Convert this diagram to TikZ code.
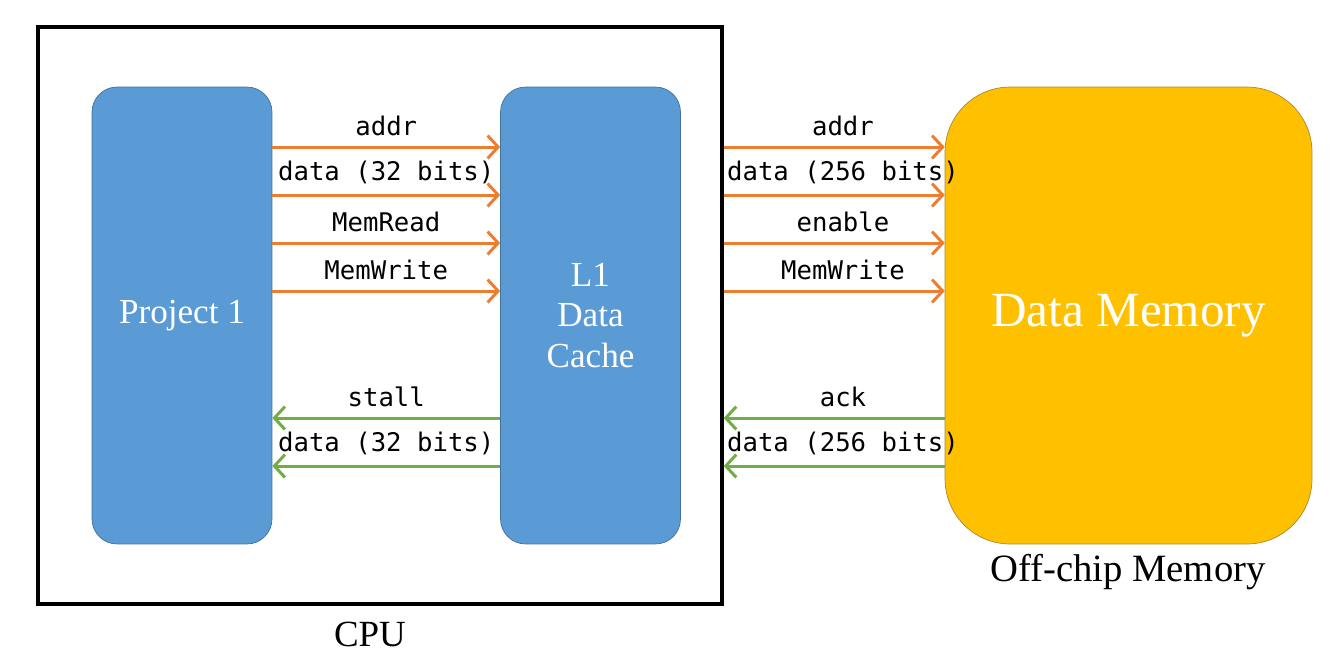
\documentclass[tikz,border=0pt]{standalone}
\usepackage{fontspec}
\setmainfont{Liberation Serif}
\setmonofont{DejaVu Sans Mono}
\usepackage{xcolor}
\usepackage{tikz}
\usetikzlibrary{positioning,calc,arrows.meta}

\definecolor{unitblue}{HTML}{5B9BD5}
\definecolor{unitedge}{HTML}{41719C}
\definecolor{memyellow}{HTML}{FFC000}
\definecolor{memedge}{HTML}{A88A2E}
\definecolor{reqorange}{HTML}{ED7D31}
\definecolor{respgreen}{HTML}{70AD47}

\begin{document}
\begin{tikzpicture}[x=0.02cm, y=-0.02cm,
    unit/.style={draw=unitedge, fill=unitblue, rounded corners=0.5cm, minimum width=3.6cm, minimum height=9.14cm, text=white, align=center, font=\fontsize{20}{23}\selectfont},
    req/.style={draw=reqorange, line width=1.7pt, -{Straight Barb[length=6pt,width=13pt]}},
    resp/.style={draw=respgreen, line width=1.7pt, -{Straight Barb[length=6pt,width=13pt]}},
    sig/.style={above, yshift=2pt, text=black, font=\ttfamily\fontsize{14.6}{16}\selectfont}]
    \useasboundingbox (0,0) rectangle (1337,657);

    \node[draw, line width=2pt, minimum width=13.68cm, minimum height=11.54cm] (cpu) at (380,315.5) {};
    \node[font=\fontsize{21}{25}\selectfont] (cpulabel) at (370,634) {CPU};

    \node[unit] (proj) at (182,315.5) {\raisebox{-3pt}{Project 1}};
    \node[unit] (cache) at (590.5,315.5) {L1\\Data\\Cache};
    \node[draw=memedge, fill=memyellow, rounded corners=1.3cm, minimum width=7.34cm, minimum height=9.14cm, text=white, font=\fontsize{28}{32}\selectfont] (mem) at (1128.5,315.5) {\raisebox{-5pt}{Data Memory}};
    \node[font=\fontsize{22}{26}\selectfont] (offchip) at (1128,572) {Off-chip Memory};

    % requests
    \foreach \y/\sig in {147/addr, 195/{data (32 bits)}, 243/MemRead, 291/MemWrite} {
        \draw[req] (proj.east |- 0,\y) -- node[sig] {\sig} (cache.west |- 0,\y);
    }
    \foreach \y/\sig in {147/addr, 195/{data (256 bits)}, 243/enable, 291/MemWrite} {
        \draw[req] (cpu.east |- 0,\y) -- node[sig, xshift=5pt] {\sig} (mem.west |- 0,\y);
    }
    % responses
    \draw[resp] (cache.west |- 0,418) -- node[sig] {stall} (proj.east |- 0,418);
    \draw[resp] (cache.west |- 0,466) -- node[sig] {data (32 bits)} (proj.east |- 0,466);
    \draw[resp] (mem.west |- 0,418) -- node[sig, xshift=5pt] {ack} (cpu.east |- 0,418);
    \draw[resp] (mem.west |- 0,466) -- node[sig, xshift=5pt] {data (256 bits)} (cpu.east |- 0,466);
\end{tikzpicture}
\end{document}
